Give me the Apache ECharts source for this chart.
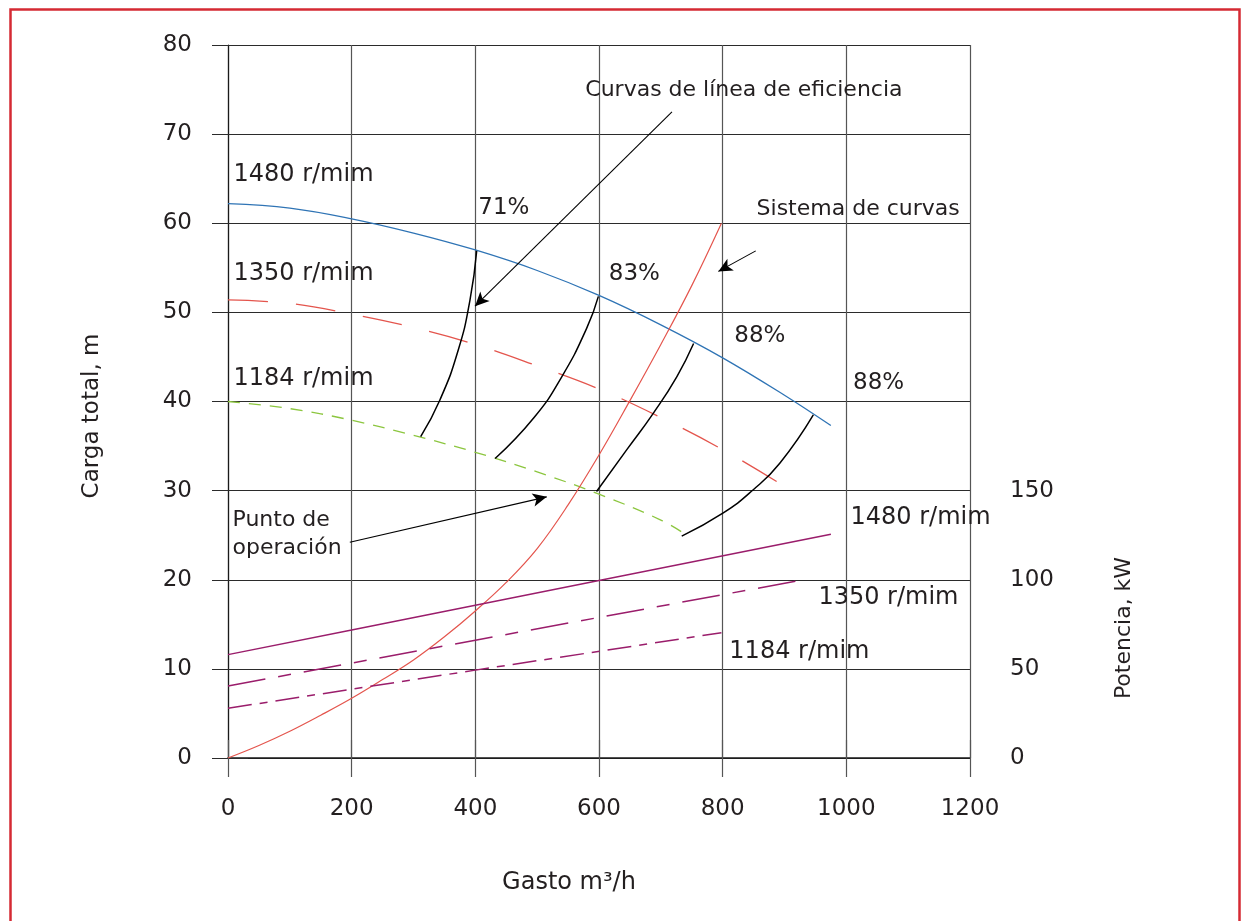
<!DOCTYPE html>
<html>
<head>
<meta charset="utf-8">
<script src="https://cdn.jsdelivr.net/npm/echarts@6/dist/echarts.min.js"></script>
<style>
  html, body { margin: 0; padding: 0; background: #fff; }
  #chart { width: 1245px; height: 921px; }
</style>
</head>
<body>
<div id="chart"></div>
<script>
// ---- Data (x: Gasto m3/h, head in m, power in kW) ----
const xTicks = [0, 200, 400, 600, 800, 1000, 1200];
const headTicks = [0, 10, 20, 30, 40, 50, 60, 70, 80];
const powerTicks = [0, 50, 100, 150];

const head1480 = [[0, 62.2], [100, 61.7], [200, 60.5], [300, 58.9], [400, 57.0], [500, 54.7], [600, 51.9], [700, 48.6], [800, 44.9], [900, 40.7], [975, 37.3]];
const head1350 = [[0, 51.4], [100, 51.0], [200, 49.8], [300, 48.3], [400, 46.4], [500, 44.0], [600, 41.4], [700, 38.2], [800, 34.6], [890, 30.9]];
const head1184 = [[0, 40.0], [100, 39.2], [200, 37.9], [300, 36.2], [400, 34.3], [500, 32.1], [600, 29.6], [700, 26.7], [742, 25.0]];
const systemCurve = [[0, 0], [50, 1.4], [100, 3.0], [150, 4.8], [200, 6.7], [250, 8.8], [300, 11.0], [350, 13.6], [400, 16.5], [450, 19.7], [500, 23.5], [550, 28.4], [600, 34.0], [650, 40.1], [700, 46.4], [750, 53.0], [798, 60.0]];

const power1480 = [[0, 58.0], [200, 71.8], [600, 99.6], [975, 125.5]];
const power1350 = [[0, 40.4], [400, 66.1], [936, 100.3]];
const power1184 = [[0, 27.9], [400, 49.3], [798, 70.3]];

const eff71 = [[402.2, 56.9], [391.4, 51.4], [372.5, 45.8], [342.9, 40.2], [311.6, 36.05]];
const eff83 = [[599, 51.8], [580, 48.2], [540, 42.8], [495, 38.2], [432, 33.6]];
const eff88a = [[753, 46.5], [726, 42.8], [688, 38.7], [645, 34.6], [596, 29.9]];
const eff88b = [[946.6, 38.5], [892.7, 33.1], [849.5, 30.1], [801.0, 27.5], [733.8, 24.9]];

// annotation arrows: [from, to] in data units
const arrows = [
  [[718, 72.5], [399.5, 50.7]],
  [[853.5, 56.9], [793, 54.6]],
  [[197, 24.2], [515.5, 29.3]]
];

// text labels anchored at their left-middle point (data units)
const notes = [
  { text: '1480 r/mim', at: [8, 65.4], size: 24 },
  { text: '1350 r/mim', at: [8, 54.3], size: 24 },
  { text: '1184 r/mim', at: [8, 42.6], size: 24 },
  { text: '71%', at: [404, 61.7], size: 23 },
  { text: '83%', at: [615, 54.3], size: 23 },
  { text: '88%', at: [818, 47.35], size: 23 },
  { text: '88%', at: [1010, 42.1], size: 23 },
  { text: 'Sistema de curvas', at: [854, 61.6], size: 22 },
  { text: 'Curvas de línea de eficiencia', at: [577, 74.95], size: 22 },
  { text: 'Punto de\noperación', at: [6.5, 25.1], size: 22 },
  { text: '1480 r/mim', at: [1006, 27.0], size: 24 },
  { text: '1350 r/mim', at: [954, 17.95], size: 24 },
  { text: '1184 r/mim', at: [810, 11.9], size: 24 }
];

const FONT = 'DejaVu Sans';
const TXT = '#231f20';
const HGRID = '#2b2b2b';
const VGRID = '#555555';

const chart = echarts.init(document.getElementById('chart'), null, { renderer: 'canvas' });

function lineSeries(name, data, color, type, width, yIdx, smooth) {
  return {
    name, type: 'line', data, yAxisIndex: yIdx || 0, xAxisIndex: 0,
    smooth: smooth === undefined ? 0.4 : smooth,
    smoothConstraint: false,
    symbol: 'none', silent: true, z: 3,
    lineStyle: { color, width: width || 1.2, type: type || 'solid' }
  };
}

const series = [
  lineSeries('H1480', head1480, '#2f74b5', 'solid', 1.3),
  lineSeries('H1350', head1350, '#e4554d', [40, 28], 1.3),
  lineSeries('H1184', head1184, '#8cc63f', [12, 9], 1.3),
  lineSeries('Sistema', systemCurve, '#e4554d', 'solid', 1.2),
  lineSeries('P1480', power1480, '#9a1d6b', 'solid', 1.5, 1, false),
  lineSeries('P1350', power1350, '#9a1d6b', [38, 13, 13, 13], 1.5, 1, false),
  lineSeries('P1184', power1184, '#9a1d6b', [24, 8, 8, 8], 1.5, 1, false),
  lineSeries('E71', eff71, '#000', 'solid', 1.5, 0, 0.5),
  lineSeries('E83', eff83, '#000', 'solid', 1.5, 0, 0.5),
  lineSeries('E88a', eff88a, '#000', 'solid', 1.5, 0, 0.5),
  lineSeries('E88b', eff88b, '#000', 'solid', 1.5, 0, 0.5),
  {
    type: 'line', data: [], symbol: 'none', silent: true,
    markLine: {
      silent: true, animation: false,
      symbol: ['none', 'arrow'], symbolSize: [10, 14],
      label: { show: false },
      lineStyle: { color: '#000', width: 1.1, type: 'solid' },
      emphasis: { disabled: true },
      data: arrows.map(a => [{ coord: a[0] }, { coord: a[1] }])
    }
  },
  {
    type: 'scatter', silent: true, z: 5,
    symbolSize: 1, itemStyle: { color: 'transparent', opacity: 1 },
    data: notes.map(n => ({ value: n.at, label: { formatter: n.text, fontSize: n.size } })),
    label: {
      show: true, position: 'right', distance: 0, opacity: 1,
      fontFamily: FONT, fontSize: 23, color: TXT, lineHeight: 28
    }
  }
];

const option = {
  animation: false,
  backgroundColor: '#fff',
  grid: { left: 228, right: 275, top: 45, bottom: 163, containLabel: false },
  xAxis: [
    {
      type: 'value', min: xTicks[0], max: xTicks[xTicks.length - 1], interval: 200,
      position: 'bottom',
      axisLine: { show: true, onZero: false, lineStyle: { color: '#1a1a1a', width: 1.6 } },
      axisTick: { show: true, inside: false, length: 19, lineStyle: { color: VGRID, width: 1.2 } },
      axisLabel: { margin: 40, fontFamily: FONT, fontSize: 23, color: TXT, formatter: v => String(v) },
      splitLine: { show: true, lineStyle: { color: VGRID, width: 1.2 } }
    },
    {
      type: 'value', min: xTicks[0], max: xTicks[xTicks.length - 1], interval: 200,
      position: 'top',
      axisLine: { show: false },
      axisTick: { show: true, inside: false, length: 18, lineStyle: { color: VGRID, width: 1.2 } },
      axisLabel: { show: false },
      splitLine: { show: false }
    }
  ],
  yAxis: [
    {
      type: 'value', min: headTicks[0], max: headTicks[headTicks.length - 1], interval: 10,
      position: 'left',
      axisLine: { show: true, lineStyle: { color: '#1a1a1a', width: 1.2 } },
      axisTick: { show: true, inside: false, length: 16, lineStyle: { color: HGRID, width: 1 } },
      axisLabel: { margin: 36, fontFamily: FONT, fontSize: 23, color: TXT },
      splitLine: { show: true, lineStyle: { color: HGRID, width: 1 } }
    },
    {
      type: 'value', min: 0, max: 400, interval: 50,
      position: 'right',
      axisLine: { show: false },
      axisTick: { show: true, inside: false, length: 20, lineStyle: { color: HGRID, width: 1 } },
      axisLabel: {
        margin: 40, fontFamily: FONT, fontSize: 23, color: TXT,
        formatter: v => (powerTicks.indexOf(v) >= 0 ? String(v) : '')
      },
      splitLine: { show: false }
    }
  ],
  graphic: [
    {
      type: 'polyline', silent: true,
      shape: { points: [[10.5, 930], [10.5, 9.5], [1239.5, 9.5], [1239.5, 930]] },
      style: { stroke: '#d52a33', lineWidth: 2.5, fill: null }
    },
    {
      type: 'text', x: 569, y: 883, silent: true,
      style: { text: 'Gasto m³/h', fontFamily: FONT, fontSize: 24, fill: TXT, align: 'center', verticalAlign: 'middle' }
    },
    {
      type: 'text', x: 92, y: 416, rotation: Math.PI / 2, silent: true,
      style: { text: 'Carga total, m', fontFamily: FONT, fontSize: 23, fill: TXT, align: 'center', verticalAlign: 'middle' }
    },
    {
      type: 'text', x: 1124, y: 628, rotation: Math.PI / 2, silent: true,
      style: { text: 'Potencia, kW', fontFamily: FONT, fontSize: 22, fill: TXT, align: 'center', verticalAlign: 'middle' }
    }
  ],
  series
};

chart.setOption(option);
</script>
</body>
</html>
